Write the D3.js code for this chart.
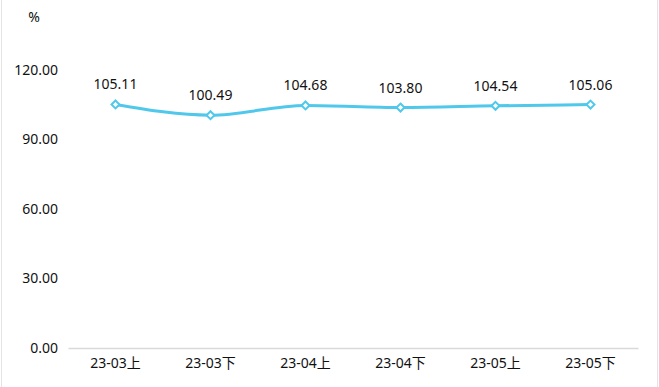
<!DOCTYPE html>
<html>
<head>
<meta charset="utf-8">
<script src="https://cdn.jsdelivr.net/npm/d3@7"></script>
<style>
  body { margin: 0; background: #fff; }
  svg { display: block; font-family: "Noto Sans", "Noto Sans CJK SC", sans-serif; }
</style>
</head>
<body>
<div id="chart"></div>
<script>
const categories = ["23-03上", "23-03下", "23-04上", "23-04下", "23-05上", "23-05下"];
const values = [105.11, 100.49, 104.68, 103.80, 104.54, 105.06];
const yTicks = [0, 30, 60, 90, 120];

const width = 659, height = 387;
const margin = {top: 70, right: 21, bottom: 39, left: 68};
const visWidth = width - margin.left - margin.right;
const visHeight = height - margin.top - margin.bottom;
const lineColor = "#4fc8eb";
const textColor = "#111";
const font = "'Noto Sans', 'Noto Sans CJK SC', sans-serif";

const svg = d3.select("#chart").append("svg")
  .attr("width", width)
  .attr("height", height);

// faint frame at left and right edges
svg.append("line").attr("x1", 1.5).attr("x2", 1.5).attr("y1", 0).attr("y2", height)
  .attr("stroke", "#e4e4e4");
svg.append("line").attr("x1", 657.5).attr("x2", 657.5).attr("y1", 0).attr("y2", height)
  .attr("stroke", "#e4e4e4");

const g = svg.append("g")
  .attr("transform", `translate(${margin.left},${margin.top})`);

const x = d3.scaleBand()
  .domain(categories)
  .range([0, visWidth]);

const y = d3.scaleLinear()
  .domain([0, 120])
  .range([visHeight, 0]);

// x axis
const xAxis = d3.axisBottom(x).tickSize(0).tickPadding(10);
g.append("g")
  .attr("transform", `translate(0,${visHeight})`)
  .call(xAxis)
  .call(a => a.select(".domain").attr("stroke", "#d9d9d9").attr("stroke-width", 1.5))
  .call(a => a.selectAll("text").attr("font-size", 14).attr("fill", textColor)
    .attr("font-family", font));

// y axis
const yAxis = d3.axisLeft(y).tickValues(yTicks).tickSize(0).tickPadding(10)
  .tickFormat(d3.format(".2f"));
g.append("g")
  .call(yAxis)
  .call(a => a.select(".domain").remove())
  .call(a => a.selectAll("text").attr("font-size", 14).attr("fill", textColor)
    .attr("font-family", font))
  .append("text")
    .attr("x", -34)
    .attr("y", -48)
    .attr("fill", textColor)
    .attr("font-size", 14)
    .attr("font-family", font)
    .attr("text-anchor", "middle")
    .text("%");

const cx = (d, i) => x(categories[i]) + x.bandwidth() / 2;

const line = d3.line()
  .x((d, i) => cx(d, i))
  .y(d => y(d))
  .curve(d3.curveMonotoneX);

g.append("path")
  .attr("fill", "none")
  .attr("stroke", lineColor)
  .attr("stroke-width", 3)
  .attr("stroke-linecap", "round")
  .attr("d", line(values));

g.selectAll(".marker")
  .data(values)
  .join("path")
  .attr("class", "marker")
  .attr("transform", (d, i) => `translate(${cx(d, i)},${y(d)})`)
  .attr("d", d3.symbol(d3.symbolDiamond2, 40))
  .attr("fill", "#fff")
  .attr("stroke", lineColor)
  .attr("stroke-width", 2);

g.selectAll(".label")
  .data(values)
  .join("text")
  .attr("class", "label")
  .attr("x", (d, i) => cx(d, i))
  .attr("y", d => y(d) - 15)
  .attr("text-anchor", "middle")
  .attr("font-size", 14)
  .attr("font-family", font)
  .attr("fill", textColor)
  .text(d => d3.format(".2f")(d));
</script>
</body>
</html>
